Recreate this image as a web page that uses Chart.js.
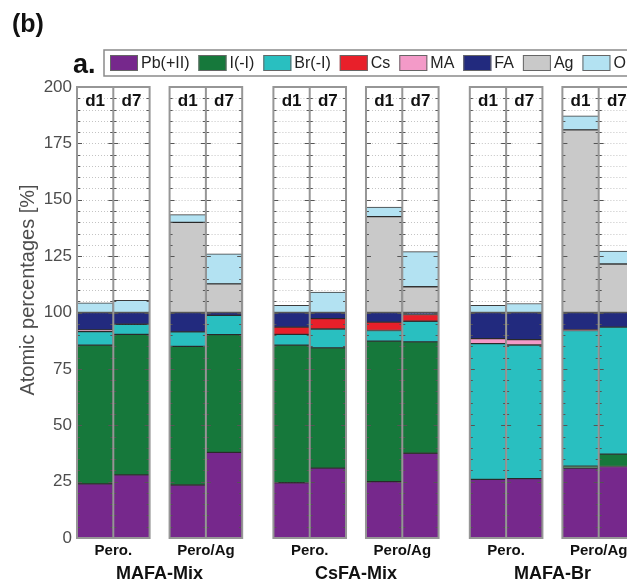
<!DOCTYPE html>
<html lang="en">
<head>
<meta charset="UTF-8">
<title>Atomic percentages</title>
<script src="https://cdn.jsdelivr.net/npm/chart.js"></script>
<style>
  html, body { margin: 0; padding: 0; background: #fff; overflow: hidden; }
  #wrap { width: 660px; height: 581px; }
</style>
</head>
<body>
<div id="wrap"><canvas id="grafico" width="660" height="581"></canvas></div>
<script>
  // bar order: per group -> Pero. d1, Pero. d7, Pero/Ag d1, Pero/Ag d7
  const groups = ['MAFA-Mix', 'CsFA-Mix', 'MAFA-Br'];
  const samples = ['Pero.', 'Pero/Ag'];
  const days = ['d1', 'd7'];
  const yTicks = [0, 25, 50, 75, 100, 125, 150, 175, 200];

  const pb = [24, 28, 23.5, 38, 24.5, 31, 25, 37.6, 26, 26.3, 31, 31.7];
  const iodide = [61.5, 62.3, 61.5, 52.2, 61, 53.3, 62.3, 49.4, 0, 0, 0.8, 5.5];
  const bromide = [6, 4.5, 6.4, 8.5, 4.8, 8.4, 4.7, 9.1, 60.2, 59.3, 60.2, 56.3];
  const cs = [0, 0, 0, 0, 3.2, 4.6, 3.7, 3, 0, 0, 0, 0];
  const ma = [0.8, 0, 0, 0, 0, 0, 0, 0, 2.2, 2.4, 0.4, 0];
  const fa = [7.7, 5.2, 8.6, 1.3, 6.5, 2.7, 4.3, 0.9, 11.6, 12, 7.6, 6.5];
  const ag = [0, 0, 40, 12.7, 0, 0, 42.5, 11.4, 0, 0, 81, 21.5];
  const oxygen = [4.3, 5.4, 3.4, 13.3, 3.2, 9.1, 4.3, 15.6, 3.2, 4, 6.2, 5.7];

  const series = [
    { label: 'Pb(+II)', data: pb, color: '#76288c' },
    { label: 'I(-I)', data: iodide, color: '#16783b' },
    { label: 'Br(-I)', data: bromide, color: '#29bfc0' },
    { label: 'Cs', data: cs, color: '#e8202a' },
    { label: 'MA', data: ma, color: '#f39ac8' },
    { label: 'FA', data: fa, color: '#222a7e' },
    { label: 'Ag', data: ag, color: '#c9c9c9' },
    { label: 'O(-II)', data: oxygen, color: '#b3e2f2' }
  ];

  // x layout in bar widths: two bars per box, small gap inside a group, bigger between groups
  const gapSample = 0.55, gapGroup = 0.86;
  const boxStart = [];
  let pos = 0;
  groups.forEach(() => {
    samples.forEach((s, si) => {
      boxStart.push(pos);
      pos += 2 + (si === 0 ? gapSample : gapGroup);
    });
  });
  const xMax = boxStart[boxStart.length - 1] + 2;
  const xs = [];
  boxStart.forEach(s => xs.push(s + 0.5, s + 1.5));

  const FONT = "'Liberation Sans', Arial, sans-serif";

  const dados = {
    datasets: series.map(s => ({
      label: s.label,
      data: s.data.map((v, i) => ({ x: xs[i], y: v })),
      backgroundColor: s.color,
      borderColor: 'rgba(25,25,25,0.85)',
      borderWidth: 1,
      borderSkipped: false,
      barPercentage: 1,
      categoryPercentage: 1
    }))
  };

  // boxes, dotted grid, tick marks and text around the bars
  const boxPlugin = {
    id: 'boxes',
    beforeDatasetsDraw(chart) {
      const ctx = chart.ctx, x = chart.scales.x, y = chart.scales.y;
      ctx.save();
      ctx.strokeStyle = '#c4c4c4';
      ctx.lineWidth = 1;
      ctx.setLineDash([1, 2]);
      boxStart.forEach(s => {
        const l = x.getPixelForValue(s), r = x.getPixelForValue(s + 2);
        for (let v = 5; v < 200; v += 5) {
          const py = Math.round(y.getPixelForValue(v)) + 0.5;
          ctx.beginPath(); ctx.moveTo(l, py); ctx.lineTo(r, py); ctx.stroke();
        }
      });
      ctx.restore();
    },
    afterDatasetsDraw(chart) {
      const ctx = chart.ctx, x = chart.scales.x, y = chart.scales.y;
      ctx.save();
      boxStart.forEach((s, bi) => {
        const l = x.getPixelForValue(s), m = x.getPixelForValue(s + 1), r = x.getPixelForValue(s + 2);
        const t = y.getPixelForValue(200), b = y.getPixelForValue(0);

        // tick marks, inward from the edges and on both sides of the divider
        ctx.strokeStyle = '#555';
        ctx.lineWidth = 1;
        for (let v = 0; v <= 200; v += 5) {
          const py = Math.round(y.getPixelForValue(v)) + 0.5;
          const len = v % 25 === 0 ? 5 : 3;
          ctx.beginPath();
          ctx.moveTo(l, py); ctx.lineTo(l + len, py);
          ctx.moveTo(r, py); ctx.lineTo(r - len, py);
          ctx.moveTo(m - len, py); ctx.lineTo(m + len, py);
          ctx.stroke();
        }

        ctx.strokeStyle = '#969696';
        ctx.lineWidth = 2;
        ctx.strokeRect(l, t, r - l, b - t);
        ctx.beginPath(); ctx.moveTo(m, t); ctx.lineTo(m, b); ctx.stroke();

        ctx.fillStyle = '#111';
        ctx.font = 'bold 17px ' + FONT;
        ctx.textAlign = 'center';
        ctx.textBaseline = 'middle';
        days.forEach((d, di) => {
          ctx.fillText(d, x.getPixelForValue(s + 0.5 + di), t + 14);
        });

        ctx.font = 'bold 15px ' + FONT;
        ctx.fillText(samples[bi % 2], m, b + 13);
      });

      ctx.font = 'bold 18px ' + FONT;
      ctx.fillStyle = '#111';
      groups.forEach((g, gi) => {
        const l = x.getPixelForValue(boxStart[gi * 2]);
        const r = x.getPixelForValue(boxStart[gi * 2 + 1] + 2);
        ctx.fillText(g, (l + r) / 2, y.getPixelForValue(0) + 36);
      });
      ctx.restore();
    },
    afterDraw(chart) {
      const ctx = chart.ctx, y = chart.scales.y;
      ctx.save();

      // axis title
      ctx.translate(28, y.getPixelForValue(110));
      ctx.rotate(-Math.PI / 2);
      ctx.fillStyle = '#4d4d4d';
      ctx.font = '20px ' + FONT;
      ctx.textAlign = 'center';
      ctx.textBaseline = 'middle';
      ctx.fillText('Atomic percentages [%]', 0, 0);
      ctx.setTransform(1, 0, 0, 1, 0, 0);

      ctx.fillStyle = '#111';
      ctx.textAlign = 'left';
      ctx.textBaseline = 'alphabetic';
      ctx.font = 'bold 25px ' + FONT;
      ctx.fillText('(b)', 12, 32);
      ctx.font = 'bold 27px ' + FONT;
      ctx.fillText('a.', 73, 73);

      // legend
      ctx.strokeStyle = '#8a8a8a';
      ctx.lineWidth = 1.5;
      ctx.strokeRect(104, 50, 640, 26);
      ctx.font = '16px ' + FONT;
      ctx.textBaseline = 'middle';
      let lx = 110;
      chart.data.datasets.forEach(ds => {
        ctx.fillStyle = ds.backgroundColor;
        ctx.fillRect(lx, 55, 28, 16);
        ctx.strokeStyle = '#666';
        ctx.lineWidth = 1;
        ctx.strokeRect(lx + 0.5, 55.5, 27, 15);
        ctx.fillStyle = '#222';
        ctx.fillText(ds.label, lx + 31, 63.5);
        lx += 31 + ctx.measureText(ds.label).width + 9;
      });
      ctx.restore();
    }
  };

  const grafico = new Chart(document.getElementById('grafico'), {
    type: 'bar',
    data: dados,
    options: {
      responsive: false,
      animation: false,
      devicePixelRatio: 1,
      layout: { padding: { top: 87, bottom: 43, left: 0, right: 25 } },
      plugins: { legend: { display: false }, tooltip: { enabled: false } },
      scales: {
        x: {
          type: 'linear',
          display: false,
          stacked: true,
          offset: false,
          min: 0,
          max: xMax,
          ticks: { stepSize: 100 }
        },
        y: {
          stacked: true,
          min: 0,
          max: 200,
          afterFit(scale) { scale.width = 77; },
          afterBuildTicks(scale) { scale.ticks = yTicks.map(v => ({ value: v })); },
          grid: { display: false, drawTicks: false, tickLength: 0 },
          border: { display: false },
          ticks: { padding: 5, color: '#4d4d4d', font: { family: FONT, size: 17 } }
        }
      }
    },
    plugins: [boxPlugin]
  });
</script>
</body>
</html>
